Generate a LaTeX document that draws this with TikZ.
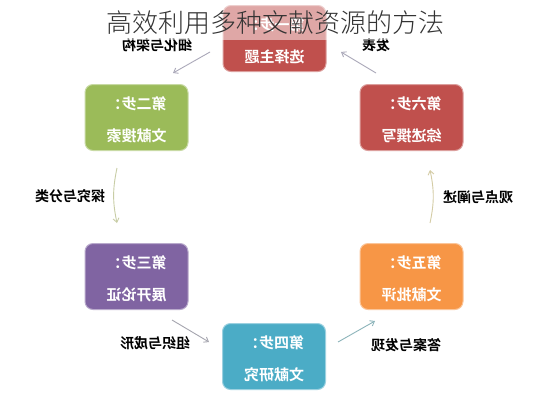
\documentclass[tikz,border=0pt]{standalone}
\usepackage{fontspec}
\usetikzlibrary{arrows.meta}
\newfontfamily\cjk{Noto Sans CJK SC}
\IfFontExistsTF{Noto Sans CJK SC Bold}{\newfontfamily\cjkbold{Noto Sans CJK SC Bold}}{\newfontfamily\cjkbold[FakeBold=2]{Noto Sans CJK SC}}
\IfFontExistsTF{Noto Sans CJK SC Light}{\newfontfamily\cjklight{Noto Sans CJK SC Light}}{\newfontfamily\cjklight{Noto Sans CJK SC}}
\definecolor{cred}{HTML}{C0504D}
\definecolor{cgreen}{HTML}{9BBB59}
\definecolor{cpurple}{HTML}{8064A2}
\definecolor{ccyan}{HTML}{4BACC6}
\definecolor{corange}{HTML}{F79646}
\definecolor{titlegray}{HTML}{333333}
\definecolor{arrgray}{RGB}{170,168,185}
\definecolor{arrolive}{RGB}{200,205,165}
\definecolor{arrgray2}{RGB}{165,165,175}
\definecolor{arrteal}{RGB}{140,180,186}
\definecolor{arrsand}{RGB}{212,204,165}
\tikzset{
  stepbox/.style={rounded corners=8pt, minimum width=103pt, minimum height=66pt, inner sep=0pt, fill=#1, draw=#1!55!white, line width=1pt},
  boxtext/.style={xscale=-1, anchor=base, inner sep=0pt, text=white, font=\cjkbold\fontsize{15pt}{15pt}\selectfont},
  lbl/.style={xscale=-1, anchor=base, inner sep=0pt, text=black, font=\cjkbold\fontsize{14pt}{14pt}\selectfont},
  flow/.style={line width=0.9pt, -{Straight Barb[length=4pt,width=6pt]}, draw=#1}
}
\begin{document}
\begin{tikzpicture}[x=1pt,y=-1pt]
\useasboundingbox (0,0) rectangle (548,400);
\fill[white] (0,0) rectangle (548,400);
% boxes
\node[stepbox=cred]    (s1) at (274.5,38.5) {};
\node[stepbox=cgreen]  (s2) at (136.5,117.5) {};
\node[stepbox=cpurple] (s3) at (136.5,276.5) {};
\node[stepbox=ccyan]   (s4) at (274,356.5) {};
\node[stepbox=corange] (s5) at (411.5,276.5) {};
\node[stepbox=cred]    (s6) at (411.5,117.5) {};
% box texts (mirrored, as in the picture)
\node[boxtext] (s1a) at (274.5,30.5) {第一步：};
\node[boxtext] (s1b) at (274.5,62.5) {选择主题};
\node[boxtext] (s2a) at (136.5,109.5) {第二步：};
\node[boxtext] (s2b) at (136.5,141.5) {文献搜索};
\node[boxtext] (s3a) at (136.5,268.5) {第三步：};
\node[boxtext] (s3b) at (136.5,300.5) {展开论证};
\node[boxtext] (s4a) at (274,348.5) {第四步：};
\node[boxtext] (s4b) at (274,380.5) {文献研究};
\node[boxtext] (s5a) at (411.5,268.5) {第五步：};
\node[boxtext] (s5b) at (411.5,300.5) {文献批评};
\node[boxtext] (s6a) at (411.5,109.5) {第六步：};
\node[boxtext] (s6b) at (411.5,141.5) {综述撰写};
% labels
\node[lbl] (l12) at (157,50) {细化与架构};
\node[lbl] (l23) at (70,201) {探究与分类};
\node[lbl] (l34) at (155,348) {组织与成形};
\node[lbl] (l45) at (406,350) {答案与发现};
\node[lbl] (l56) at (478,202) {观点与阐述};
\node[lbl] (l61) at (376,50) {发表};
% arrow end points
\coordinate (a12s) at (210,52);  \coordinate (a12e) at (173,73);
\coordinate (a23s) at (117,168); \coordinate (a23e) at (117,223);
\coordinate (a34s) at (172,320); \coordinate (a34e) at (209,342);
\coordinate (a45s) at (338,342); \coordinate (a45e) at (375,321);
\coordinate (a56s) at (430,223); \coordinate (a56e) at (430,170);
\coordinate (a61s) at (376,73);  \coordinate (a61e) at (341,52);
\draw[flow=arrgray] (a12s) -- (a12e);
\draw[flow=arrolive] (a23s) to[bend right=12] (a23e);
\draw[flow=arrgray2] (a34s) -- (a34e);
\draw[flow=arrteal] (a45s) -- (a45e);
\draw[flow=arrsand] (a56s) to[bend right=12] (a56e);
\draw[flow=arrgray] (a61s) -- (a61e);
% translucent band behind the title
\fill[white, opacity=0.5] (0,0) rectangle (548,40);
\node[anchor=base, inner sep=0pt, text=titlegray, font=\cjklight\fontsize{26pt}{26pt}\selectfont] (title) at (275.5,32) {高效利用多种文献资源的方法};
\end{tikzpicture}
\end{document}
